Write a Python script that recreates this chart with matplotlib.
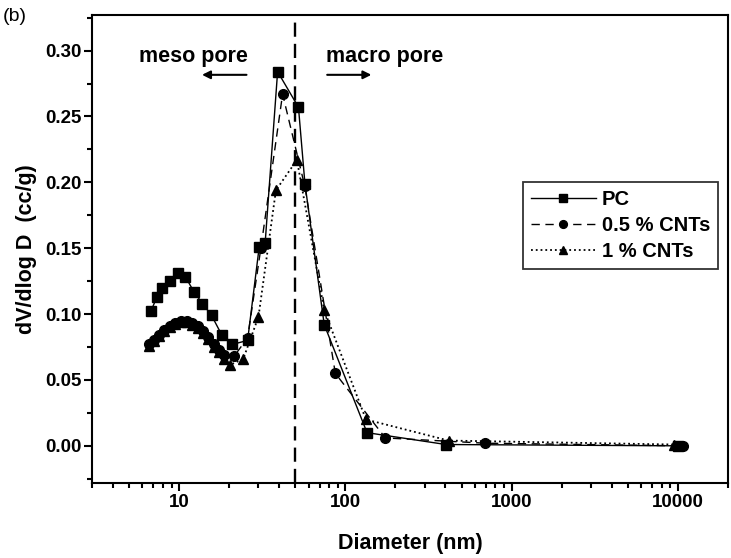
import matplotlib

matplotlib.use("Agg")
import matplotlib.pyplot as plt
from matplotlib.ticker import MultipleLocator, LogLocator, NullFormatter, FixedLocator, FixedFormatter

plt.rcParams["font.family"] = ["Liberation Sans", "DejaVu Sans"]
plt.rcParams["font.weight"] = "bold"

# PC (squares)
pc_d = [6.75, 7.34, 7.93, 8.83, 9.77, 10.87, 12.26, 13.8, 15.65, 18.07, 20.9,
        25.8, 30.3, 32.9, 39.1, 52.2, 57.1, 74.6, 135, 403, 10000]
pc_v = [0.102, 0.113, 0.120, 0.125, 0.131, 0.1285, 0.117, 0.108, 0.099, 0.084, 0.077,
        0.080, 0.151, 0.154, 0.284, 0.257, 0.199, 0.092, 0.010, 0.001, 0.0]

# 0.5 % CNTs (circles)
c05_d = [6.6, 7.07, 7.58, 8.12, 8.79, 9.46, 10.24, 11.07, 11.93, 12.9, 13.95, 15.0,
         16.24, 17.4, 18.66, 21.4, 25.8, 31.0, 41.9, 57.0, 87.0, 174, 695, 10700]
c05_v = [0.077, 0.0805, 0.084, 0.088, 0.091, 0.0936, 0.095, 0.095, 0.093, 0.0906, 0.087, 0.0825,
         0.077, 0.073, 0.069, 0.068, 0.082, 0.150, 0.267, 0.197, 0.055, 0.006, 0.002, 0.0]

# 1 % CNTs (triangles)
c1_d = [6.6, 7.07, 7.58, 8.12, 8.79, 9.46, 10.24, 11.07, 11.93, 12.9, 13.95, 15.0,
        16.24, 17.4, 18.66, 20.3, 24.3, 30.0, 38.2, 51.1, 74.6, 133, 418, 9500]
c1_v = [0.076, 0.0795, 0.083, 0.087, 0.090, 0.0926, 0.094, 0.094, 0.092, 0.0896, 0.086, 0.081,
        0.075, 0.071, 0.066, 0.0615, 0.066, 0.098, 0.194, 0.217, 0.103, 0.020, 0.004, 0.001]

BOUNDARY = 50  # nm, meso/macro limit

fig = plt.figure(figsize=(7.31, 5.58), dpi=100)
ax = fig.add_axes([0.1263, 0.1349, 0.8692, 0.8382])

ax.plot(pc_d, pc_v, "-", color="black", lw=1.0, marker="s", ms=6.5, label="PC")
ax.plot(c05_d, c05_v, "--", color="black", lw=1.0, marker="o", ms=7, dashes=(6, 4), label="0.5 % CNTs")
ax.plot(c1_d, c1_v, ":", color="black", lw=1.3, marker="^", ms=7, label="1 % CNTs")
ax.axvline(BOUNDARY, color="black", lw=1.7, ls=(0, (6, 3)))

ax.set_xscale("log")
ax.set_xlim(3, 20000)
ax.set_ylim(-0.028, 0.327)

ax.xaxis.set_major_locator(FixedLocator([10, 100, 1000, 10000]))
ax.xaxis.set_major_formatter(FixedFormatter(["10", "100", "1000", "10000"]))
ax.xaxis.set_minor_locator(LogLocator(base=10, subs=range(2, 10), numticks=20))
ax.xaxis.set_minor_formatter(NullFormatter())
ax.yaxis.set_major_locator(MultipleLocator(0.05))
ax.yaxis.set_minor_locator(MultipleLocator(0.025))
ax.yaxis.set_major_formatter(lambda v, p: f"{v:.2f}")

ax.tick_params(which="both", direction="out", top=False, right=False, width=1.5)
ax.tick_params(which="major", length=6, labelsize=13.5)
ax.tick_params(axis="y", which="major", pad=2)
ax.tick_params(axis="x", which="major", pad=2)
ax.tick_params(which="minor", length=3.5)
for s in ax.spines.values():
    s.set_linewidth(1.5)

ax.set_xlabel("Diameter (nm)", fontsize=15.5, fontweight="bold", labelpad=16)
ax.set_ylabel("dV/dlog D  (cc/g)", fontsize=15.5, fontweight="bold", labelpad=6)

ax.text(5.74, 0.2915, "meso pore", fontsize=15.5, fontweight="bold", va="baseline")
ax.annotate("", xy=(13.2, 0.2816), xytext=(26.4, 0.2816),
            arrowprops=dict(arrowstyle="-|>", color="black", lw=1.5, mutation_scale=12))
ax.text(76.8, 0.2915, "macro pore", fontsize=15.5, fontweight="bold", va="baseline")
ax.annotate("", xy=(149, 0.2816), xytext=(74.8, 0.2816),
            arrowprops=dict(arrowstyle="-|>", color="black", lw=1.5, mutation_scale=12))

leg = ax.legend(loc="upper right", bbox_to_anchor=(0.9847, 0.643), borderaxespad=0,
                fontsize=14.5, frameon=True, fancybox=False, edgecolor="black",
                handlelength=3.2, handletextpad=0.3, borderpad=0.4, labelspacing=0.35,
                markerscale=0.8)
leg.get_frame().set_linewidth(1.3)
for t in leg.get_texts():
    t.set_fontweight("bold")

fig.text(0.004, 0.962, "(b)", fontsize=14, fontweight="normal")

fig.savefig("out.png", dpi=100)
